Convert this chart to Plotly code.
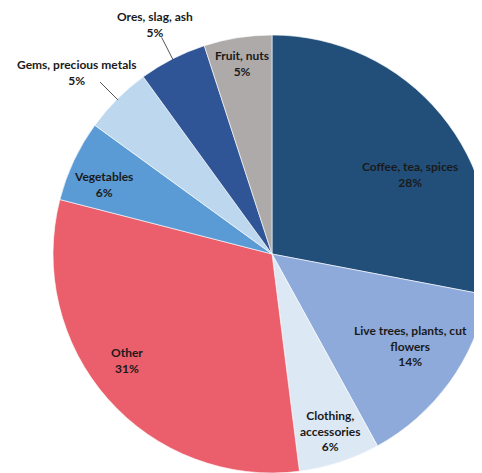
import math
import plotly.graph_objects as go

categories = ["Coffee, tea, spices", "Live trees, plants, cut flowers", "Clothing, accessories",
              "Other", "Vegetables", "Gems, precious metals", "Ores, slag, ash", "Fruit, nuts"]
values = [28, 14, 6, 31, 6, 5, 5, 5]
label_text = ["Coffee, tea, spices", "Live trees, plants, cut<br>flowers", "Clothing,<br>accessories",
              "Other", "Vegetables", "Gems, precious metals", "Ores, slag, ash", "Fruit, nuts"]
colors = ["#214f7a", "#8eaadb", "#dde8f5", "#ea5f6b", "#5b9bd5", "#bdd7ee", "#2f5597", "#aeaaaa"]

# label placement: (angle tweak in degrees, radial fraction)
label_place = [(-9.6, 0.73), (2.3, 0.76), (0.4, 0.85), (-5.0, 0.82), (2.7, 0.835),
               (2.1, 1.215), (0.0, 1.175), (0.0, 0.88)]
leader = [False, False, False, False, False, True, True, False]

W, H = 492, 465
ml, mt = 45, 27
pw = ph = 438
mr, mb = W - ml - pw, H - mt - ph
R = min(pw, ph) / 2.0
cx, cy = ml + pw / 2.0, mt + ph / 2.0

def to_paper(px, py):
    return (px - ml) / pw, 1 - (py - mt) / ph

fig = go.Figure(go.Pie(
    labels=categories, values=values, sort=False, direction="clockwise", rotation=0,
    marker=dict(colors=colors, line=dict(color="rgba(255,255,255,0.6)", width=1)),
    textinfo="none", hoverinfo="label+percent", showlegend=False,
    domain=dict(x=[0, 1], y=[0, 1]),
))

total = sum(values)
annotations, shapes = [], []
start = 90.0
for i, v in enumerate(values):
    span = 360.0 * v / total
    mid = start - span / 2.0
    start -= span
    dang, frac = label_place[i]
    a = math.radians(mid + dang)
    px, py = cx + frac * R * math.cos(a), cy - frac * R * math.sin(a)
    x, y = to_paper(px, py)
    pct = round(100 * v / total)
    annotations.append(dict(
        x=x, y=y, xref="paper", yref="paper", showarrow=False,
        text=f"<b>{label_text[i]}<br>{pct}%</b>", align="center",
        xanchor="center", yanchor="middle",
        font=dict(family="Lato, sans-serif", size=12, color="#1a1a1a"),
    ))
    if leader[i]:
        am = math.radians(mid)
        x0, y0 = to_paper(cx + 0.995 * R * math.cos(am), cy - 0.995 * R * math.sin(am))
        x1, y1 = to_paper(cx + 1.11 * R * math.cos(am), cy - 1.11 * R * math.sin(am))
        shapes.append(dict(type="line", xref="paper", yref="paper", x0=x0, y0=y0, x1=x1, y1=y1,
                           line=dict(color="#555555", width=1)))

fig.update_layout(
    width=W, height=H, margin=dict(l=ml, r=mr, t=mt, b=mb),
    paper_bgcolor="white", plot_bgcolor="white",
    annotations=annotations, shapes=shapes,
)
fig.write_html("out.html")
